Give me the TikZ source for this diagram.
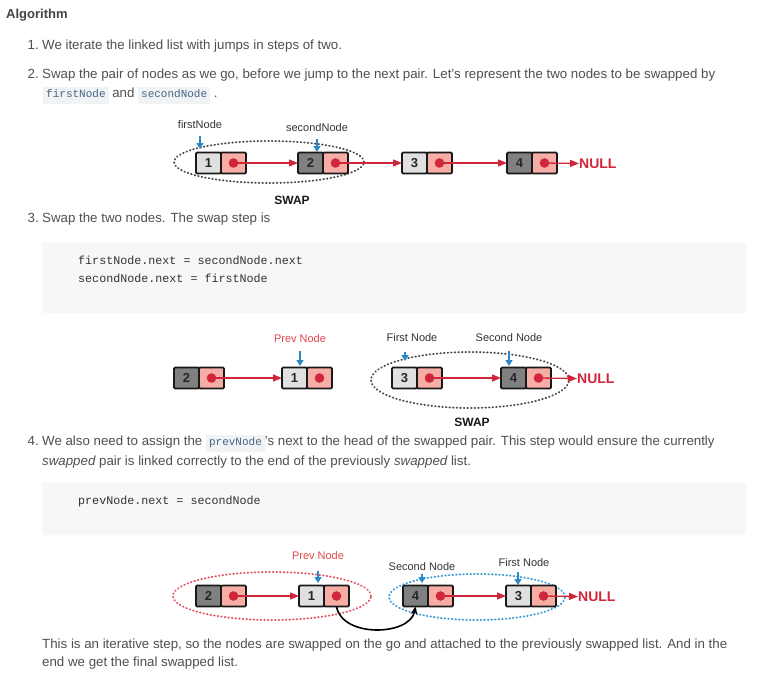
\documentclass[tikz,border=0pt]{standalone}
\usepackage{fontspec}
\setmainfont{Liberation Sans}
\newfontfamily\labfont{Liberation Sans}
\newfontfamily\codefont{Liberation Mono}
\usetikzlibrary{arrows.meta,positioning}
\definecolor{bodytxt}{HTML}{505050}
\definecolor{headtxt}{HTML}{444444}
\definecolor{chipbg}{HTML}{F0F3F6}
\definecolor{chiptxt}{HTML}{476582}
\definecolor{codebg}{HTML}{F6F7F9}
\definecolor{codetxt}{HTML}{333333}
\definecolor{celllight}{HTML}{E0E0E0}
\definecolor{celldark}{HTML}{808080}
\definecolor{cellpink}{HTML}{F6ADA6}
\definecolor{dotred}{HTML}{D0263B}
\definecolor{nullred}{HTML}{D3253A}
\definecolor{prevred}{HTML}{E0474C}
\definecolor{arrblue}{HTML}{2B87C5}
\definecolor{ellblue}{HTML}{3A9AD6}
\definecolor{ellred}{HTML}{E2525E}
\newcommand\chip[1]{{\setlength\fboxsep{3pt}\colorbox{chipbg}{\codefont\fontsize{11}{11}\selectfont\textcolor{chiptxt}{\strut#1}}}}
\newcommand\listnode[5]{%
  \node[#4, anchor=west] (#1) at (#2,#3) {#5};
  \node[ptrcell, right=0pt of #1] (#1p) {};
  \fill[dotred] (#1p.center) circle (4.8pt);
}
\tikzset{
  valcell/.style={draw=black!90, line width=1.8pt, rounded corners=1.2pt, minimum width=25pt, minimum height=21pt, inner sep=0pt, outer sep=0pt, font=\labfont\bfseries\fontsize{13}{13}\selectfont, text=black!85},
  lightcell/.style={valcell, fill=celllight},
  darkcell/.style={valcell, fill=celldark},
  ptrcell/.style={valcell, fill=cellpink},
  redarr/.style={draw=dotred, line width=1.3pt, -{Triangle[length=9pt,width=7pt]}},
  bluearr/.style={draw=arrblue, line width=1.4pt, -{Triangle[length=6pt,width=7pt]}},
  curvarr/.style={draw=black, line width=1.6pt, -{Stealth[length=8pt,width=7pt]}},
  dotell/.style={line width=1.9pt, dash pattern=on 0.6pt off 3pt, line cap=round},
  nullsty/.style={font=\labfont\bfseries\fontsize{14}{14}\selectfont, text=nullred, inner sep=0pt},
  lab/.style={font=\labfont\fontsize{11}{11}\selectfont, text=black!80, inner sep=0pt},
  prevlab/.style={lab, text=prevred},
  swaplab/.style={font=\labfont\bfseries\fontsize{12}{12}\selectfont, text=black!90, inner sep=0pt},
  txt/.style={anchor=base west, inner sep=0pt, text=bodytxt, font=\fontsize{13.3}{15}\selectfont},
  num/.style={anchor=base east, inner sep=0pt, text=bodytxt, font=\fontsize{13.3}{15}\selectfont},
  code/.style={anchor=base west, inner sep=0pt, text=codetxt, font=\codefont\fontsize{11.7}{14}\selectfont},
}
\begin{document}
\begin{tikzpicture}[x=1pt,y=-1pt]
\useasboundingbox (0,0) rectangle (760,686);
\fill[white] (0,0) rectangle (760,686);

% ---- text ----
\node[anchor=base west, inner sep=0pt, text=headtxt, font=\labfont\bfseries\fontsize{13}{15}\selectfont] (head) at (6,18.5) {Algorithm};

\node[num] (n1) at (39,49.5) {1.};
\node[txt] (t1) at (42,49.5) {We iterate the linked list with jumps in steps of two.};

\node[num] (n2) at (39,78.5) {2.};
\node[txt] (t2a) at (42,78.5) {Swap the pair of nodes as we go, before we jump to the next pair. Let's represent the two nodes to be swapped by};
\node[txt] (t2b) at (43,97.5) {\chip{firstNode} and \chip{secondNode} .};

\node[num] (n3) at (39,222.5) {3.};
\node[txt] (t3) at (42,222.5) {Swap the two nodes. The swap step is};

\fill[codebg, rounded corners=3pt] (42,242) rectangle (746,313);
\node[code] (c1) at (78,264) {firstNode.next = secondNode.next};
\node[code] (c2) at (78,282) {secondNode.next = firstNode};

\node[num] (n4) at (39,445.5) {4.};
\node[txt] (t4a) at (42,445.5) {We also need to assign the \chip{prevNode}'s next to the head of the swapped pair. This step would ensure the currently};
\node[txt] (t4b) at (42,465) {\itshape swapped\upshape{} pair is linked correctly to the end of the previously \itshape swapped\upshape{} list.};

\fill[codebg, rounded corners=3pt] (42,482) rectangle (746,535);
\node[code] (c3) at (78,504) {prevNode.next = secondNode};

\node[txt] (f1) at (42,648.5) {This is an iterative step, so the nodes are swapped on the go and attached to the previously swapped list. And in the};
\node[txt] (f2) at (42,666.5) {end we get the final swapped list.};

% ---- diagram 1 ----
\draw[dotell, black!70] (269,162) ellipse [x radius=95pt, y radius=21pt];
\listnode{A1}{196}{163}{lightcell}{1}
\listnode{A2}{298}{163}{darkcell}{2}
\listnode{A3}{402}{163}{lightcell}{3}
\listnode{A4}{507}{163}{darkcell}{4}
\node[nullsty, anchor=west] (N1) at (579,163.5) {NULL};
\draw[redarr] (A1p.center) -- (A2.west);
\draw[redarr] (A2p.center) -- (A3.west);
\draw[redarr] (A3p.center) -- (A4.west);
\draw[redarr] (A4p.center) -- (N1.west);
\node[lab] (L1a) at (200,125) {firstNode};
\node[lab] (L1b) at (317,127.5) {secondNode};
\coordinate (L1as) at (200,136);
\coordinate (L1at) at (200,149);
\coordinate (L1bs) at (317,139);
\coordinate (L1bt) at (317,152);
\draw[bluearr] (L1as) -- (L1at);
\draw[bluearr] (L1bs) -- (L1bt);
\node[swaplab] (S1) at (292,200) {SWAP};

% ---- diagram 2 ----
\draw[dotell, black!70] (470,380) ellipse [x radius=99pt, y radius=28pt];
\listnode{B2}{174}{378}{darkcell}{2}
\listnode{B1}{282}{378}{lightcell}{1}
\listnode{B3}{392}{378}{lightcell}{3}
\listnode{B4}{501}{378}{darkcell}{4}
\node[nullsty, anchor=west] (N2) at (577,378.5) {NULL};
\draw[redarr] (B2p.center) -- (B1.west);
\draw[redarr] (B3p.center) -- (B4.west);
\draw[redarr] (B4p.center) -- (N2.west);
\node[prevlab] (L2a) at (300,339) {Prev Node};
\node[lab] (L2b) at (412,338) {First Node};
\node[lab] (L2c) at (509,338) {Second Node};
\coordinate (L2as) at (300,351);
\coordinate (L2at) at (300,366);
\coordinate (L2bs) at (405,352);
\coordinate (L2bt) at (405,361);
\coordinate (L2cs) at (509,351);
\coordinate (L2ct) at (509,366);
\draw[bluearr] (L2as) -- (L2at);
\draw[bluearr] (L2bs) -- (L2bt);
\draw[bluearr] (L2cs) -- (L2ct);
\node[swaplab] (S2) at (472,422) {SWAP};

% ---- diagram 3 ----
\draw[dotell, ellred] (272,596) ellipse [x radius=99pt, y radius=24pt];
\draw[dotell, ellblue] (477,597) ellipse [x radius=88pt, y radius=23pt];
\listnode{C2}{196}{596}{darkcell}{2}
\listnode{C1}{299}{596}{lightcell}{1}
\listnode{C4}{403}{596}{darkcell}{4}
\listnode{C3}{506}{596}{lightcell}{3}
\node[nullsty, anchor=west] (N3) at (578,596.5) {NULL};
\draw[redarr] (C2p.center) -- (C1.west);
\draw[redarr] (C4p.center) -- (C3.west);
\draw[redarr] (C3p.center) -- (N3.west);
\draw[curvarr] (C1p.south) .. controls (342,638) and (410,636) .. (C4.south);
\node[prevlab] (L3a) at (318,556) {Prev Node};
\node[lab] (L3b) at (422,567) {Second Node};
\node[lab] (L3c) at (524,563) {First Node};
\coordinate (L3as) at (318,571);
\coordinate (L3at) at (318,583);
\coordinate (L3bs) at (422,574);
\coordinate (L3bt) at (422,583);
\coordinate (L3cs) at (518,572);
\coordinate (L3ct) at (518,585);
\draw[bluearr] (L3as) -- (L3at);
\draw[bluearr] (L3bs) -- (L3bt);
\draw[bluearr] (L3cs) -- (L3ct);
\end{tikzpicture}
\end{document}
